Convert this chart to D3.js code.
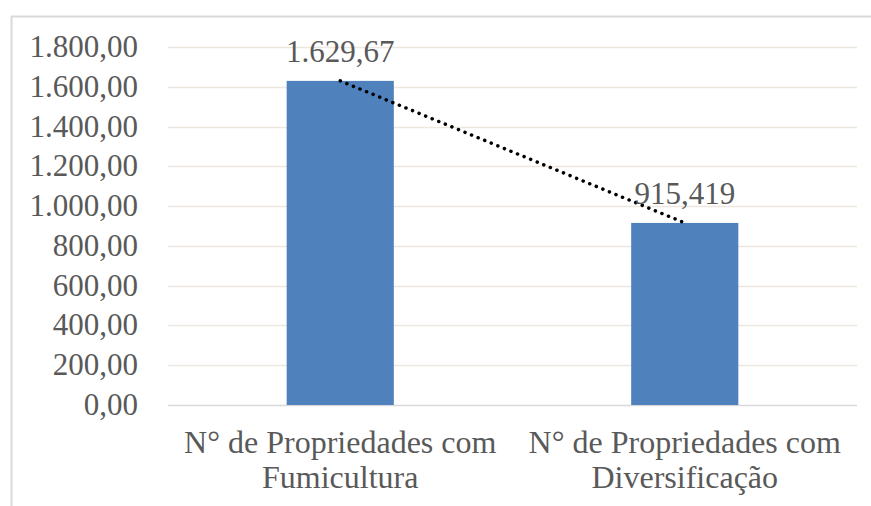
<!DOCTYPE html>
<html>
<head>
<meta charset="utf-8">
<script src="https://cdn.jsdelivr.net/npm/d3@7"></script>
<style>
  body { margin: 0; background: #fff; }
  text { font-family: "Liberation Serif", "Times New Roman", serif; fill: #595959; }
</style>
</head>
<body>
<div id="chart"></div>
<script>
// dados do grafico
var categories = [["N° de Propriedades com", "Fumicultura"], ["N° de Propriedades com", "Diversificação"]];
var values = [1629.67, 915.419];
var valueLabels = ["1.629,67", "915,419"];
var ticks = [0, 200, 400, 600, 800, 1000, 1200, 1400, 1600, 1800];

var w = 871, h = 506;
var margin = {top: 47, right: 14, bottom: 101, left: 168};

var svg = d3.select("#chart").append("svg")
   .attr("width", w)
   .attr("height", h);

// moldura (so topo e esquerda aparecem no recorte)
svg.append("line").attr("x1", 11).attr("x2", w).attr("y1", 16.5).attr("y2", 16.5)
   .attr("stroke", "#d9d9d9").attr("stroke-width", 2);
svg.append("line").attr("x1", 11.5).attr("x2", 11.5).attr("y1", 16).attr("y2", h)
   .attr("stroke", "#d9d9d9").attr("stroke-width", 2);

var x = d3.scaleBand()
   .domain(d3.range(values.length))
   .range([margin.left, w - margin.right])
   .paddingInner(0.689)
   .paddingOuter(0.3445);

var y = d3.scaleLinear()
   .domain([0, 1800])
   .range([h - margin.bottom, margin.top]);

var fmt = function(d) {
   var s = d3.format(",.2f")(d);
   return s.replace(/,/g, "#").replace(".", ",").replace(/#/g, ".");
};

// linhas de grade
svg.append("g").selectAll("line")
   .data(ticks)
   .enter()
   .append("line")
   .attr("x1", margin.left)
   .attr("x2", w - margin.right)
   .attr("y1", function(d) { return Math.round(y(d)) + 0.5; })
   .attr("y2", function(d) { return Math.round(y(d)) + 0.5; })
   .attr("stroke", function(d) { return d == 0 ? "#d9d9d9" : "#ece8e0"; })
   .attr("stroke-width", 1.5);

// eixo y
svg.append("g").selectAll("text")
   .data(ticks)
   .enter()
   .append("text")
   .attr("x", 138)
   .attr("y", function(d) { return y(d) + 10; })
   .attr("text-anchor", "end")
   .style("font-size", "31px")
   .text(fmt);

// barras
svg.append("g").selectAll("rect")
   .data(values)
   .enter()
   .append("rect")
   .attr("x", function(d, i) { return x(i); })
   .attr("y", function(d) { return y(d); })
   .attr("width", x.bandwidth())
   .attr("height", function(d) { return y(0) - y(d); })
   .attr("fill", "#4f81bd");

// linha de tendencia pontilhada
var line = d3.line()
   .x(function(d, i) { return x(i) + x.bandwidth() / 2; })
   .y(function(d) { return y(d); });

svg.append("path")
   .attr("d", line(values))
   .attr("fill", "none")
   .attr("stroke", "#000")
   .attr("stroke-width", 3.5)
   .attr("stroke-linecap", "round")
   .attr("stroke-dasharray", "0.1,7");

// rotulos de valores
svg.append("g").selectAll("text")
   .data(values)
   .enter()
   .append("text")
   .attr("x", function(d, i) { return x(i) + x.bandwidth() / 2; })
   .attr("y", function(d) { return y(d) - 19; })
   .attr("text-anchor", "middle")
   .style("font-size", "31px")
   .text(function(d, i) { return valueLabels[i]; });

// rotulos das categorias
var cat = svg.append("g").selectAll("text")
   .data(categories)
   .enter()
   .append("text")
   .attr("text-anchor", "middle")
   .style("font-size", "32px");

cat.selectAll("tspan")
   .data(function(d, i) { return d.map(function(t) { return {t: t, i: i}; }); })
   .enter()
   .append("tspan")
   .attr("x", function(d) { return x(d.i) + x.bandwidth() / 2; })
   .attr("y", function(d, j) { return 453 + j * 35; })
   .text(function(d) { return d.t; });
</script>
</body>
</html>
